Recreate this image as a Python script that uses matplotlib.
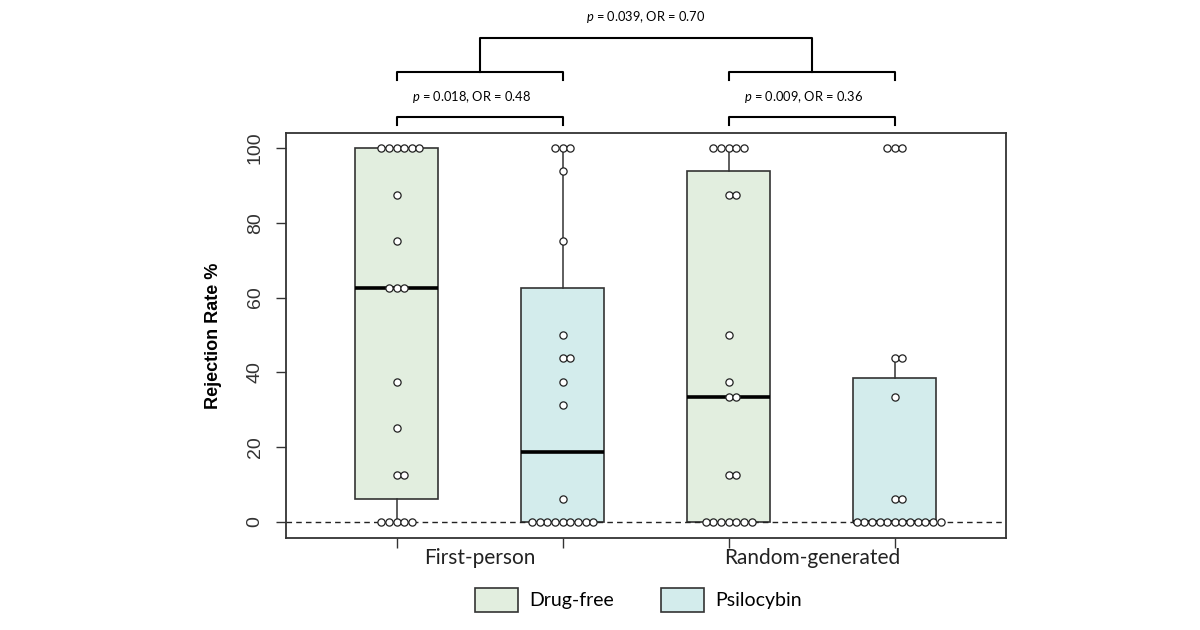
import numpy as np
import matplotlib
matplotlib.use("Agg")
import matplotlib.pyplot as plt
from matplotlib.patches import Patch

plt.rcParams["mathtext.fontset"] = "custom"
plt.rcParams["mathtext.it"] = "Lato:italic"
plt.rcParams["mathtext.rm"] = "Lato"

groups = ["First-person", "Random-generated"]
conditions = ["Drug-free", "Psilocybin"]
fill_colors = ["#e2eedf", "#d3ecec"]

# rejection rate (%) per participant
fp_drugfree = [0]*5 + [12.5]*2 + [25, 37.5] + [62.5]*3 + [75, 87.5] + [100]*6
fp_psilo = [0]*9 + [6.25, 31.25, 37.5, 43.75, 43.75, 50, 75, 93.75] + [100]*3
rg_drugfree = [0]*7 + [12.5]*2 + [33.33]*2 + [37.5, 50] + [87.5]*2 + [100]*5
rg_psilo = [0]*12 + [6.25]*2 + [33.33] + [43.75]*2 + [100]*3
datasets = [fp_drugfree, fp_psilo, rg_drugfree, rg_psilo]

tests = ["$\\it{p}$ = 0.018, OR = 0.48", "$\\it{p}$ = 0.009, OR = 0.36"]
test_overall = "$\\it{p}$ = 0.039, OR = 0.70"


def tukey_stats(vals):
    v = np.sort(np.asarray(vals, dtype=float))
    n = len(v)
    q1 = np.median(v[:(n + 1)//2])
    q3 = np.median(v[n//2:])
    iqr = q3 - q1
    return dict(med=np.median(v), q1=q1, q3=q3,
                whislo=v[v >= q1 - 1.5*iqr].min(),
                whishi=v[v <= q3 + 1.5*iqr].max(), fliers=[])


def swarm_offsets(n):
    offs = [0]
    k = 1
    while len(offs) < n:
        offs.append(k)
        if len(offs) < n:
            offs.append(-k)
        k += 1
    return np.array(offs)


fig = plt.figure(figsize=(12, 6.3), dpi=100)
ax = fig.add_axes([0.2383, 0.146, 0.6, 0.643])

positions = [1, 2, 3, 4]
stats = [tukey_stats(d) for d in datasets]
bp = ax.bxp(stats, positions=positions, widths=0.5, patch_artist=True,
            showfliers=False, showcaps=False,
            boxprops=dict(edgecolor="#333333", linewidth=1.2),
            medianprops=dict(color="black", linewidth=2.6),
            whiskerprops=dict(color="#333333", linewidth=1.1))
for i, b in enumerate(bp["boxes"]):
    b.set_facecolor(fill_colors[i % 2])

ax.axhline(0, color="#222222", ls=(0, (4, 3)), lw=1.0, zorder=2.5)

step = 0.046
for pos, d in zip(positions, datasets):
    vals, counts = np.unique(d, return_counts=True)
    for v, c in zip(vals, counts):
        xs = pos + swarm_offsets(c)*step
        ax.plot(xs, [v]*c, "o", ms=5.2, mfc="white", mec="#222222",
                mew=0.9, zorder=4, clip_on=False)

ax.set_xlim(0.334, 4.669)
ax.set_ylim(-4.28, 104)
ax.set_xticks(positions)
ax.set_xticklabels([])
ax.set_yticks(np.arange(0, 101, 20))
ax.set_yticklabels([str(t) for t in range(0, 101, 20)], rotation=90,
                   va="center", fontsize=14, color="#333333",
                   family="Liberation Sans")
ax.tick_params(axis="both", length=7, width=1.0, color="#333333")
ax.tick_params(axis="y", pad=9)
for s in ax.spines.values():
    s.set_color("#333333")
    s.set_linewidth(1.3)
ax.set_ylabel("Rejection Rate %", fontsize=13, fontweight="bold",
              family="Liberation Sans", labelpad=18)

for j, g in enumerate(groups):
    ax.text(positions[2*j] + 0.5, -9.6, g, ha="center", va="center",
            fontsize=15, family="Lato", color="#222222")

# significance brackets
bk = dict(color="black", lw=1.5, clip_on=False)
for j in range(2):
    x0, x1 = positions[2*j], positions[2*j + 1]
    ax.plot([x0, x0, x1, x1], [106.1, 108.3, 108.3, 106.1], **bk)
    ax.plot([x0, x0, x1, x1], [118.2, 120.3, 120.3, 118.2], **bk)
    ax.text((x0 + x1)/2 - 0.05, 113.6, tests[j], ha="center", va="center",
            fontsize=9.3, family="Lato")
m0, m1 = positions[0] + 0.5, positions[2] + 0.5
ax.plot([m0, m0, m1, m1], [120.3, 129.4, 129.4, 120.3], **bk)
ax.text((m0 + m1)/2, 135, test_overall, ha="center", va="center",
        fontsize=9.3, family="Lato")

handles = [Patch(facecolor=c, edgecolor="#333333", lw=1.2) for c in fill_colors]
fig.legend(handles, conditions, loc="center", bbox_to_anchor=(0.532, 0.048),
           ncol=2, frameon=False, prop=dict(family="Lato", size=14),
           handlelength=2.2, handleheight=1.5, columnspacing=2.4,
           handletextpad=0.6)

fig.savefig("out.png", dpi=100)
